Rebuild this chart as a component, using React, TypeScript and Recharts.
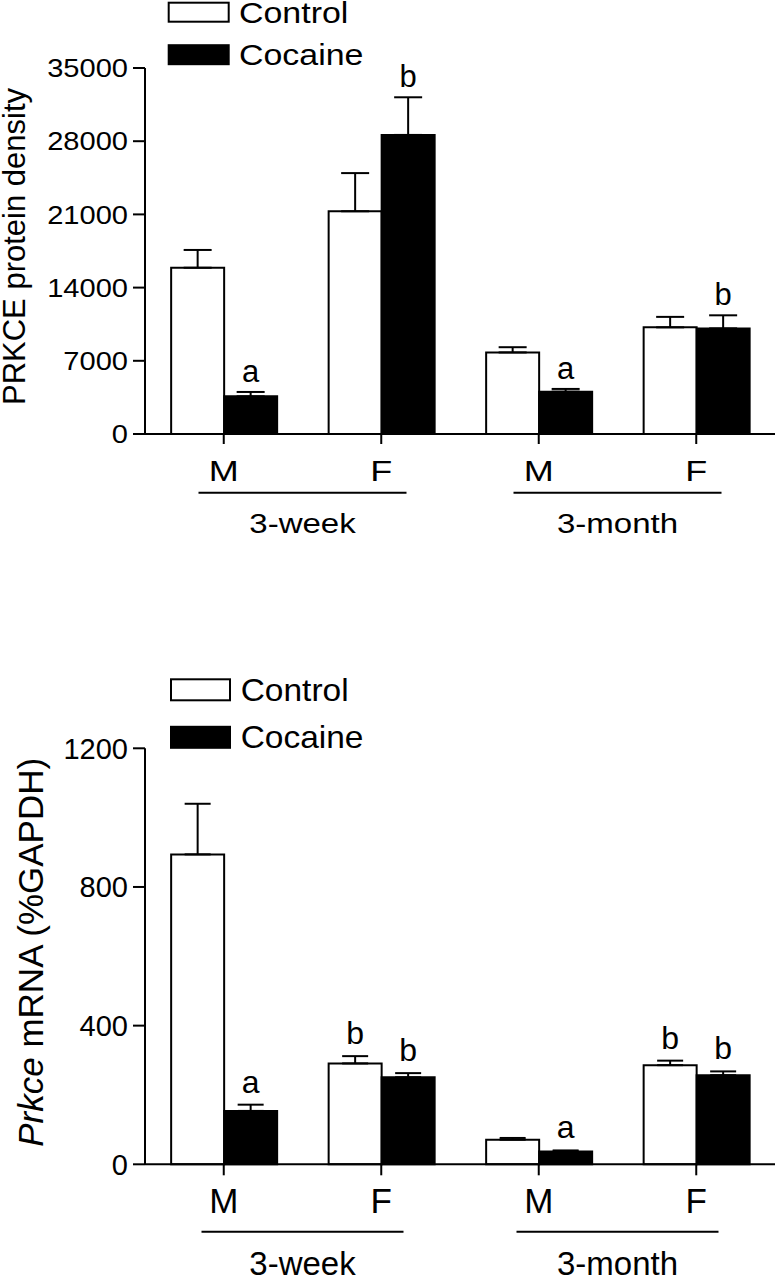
import React from 'react'
import { BarChart, Bar, XAxis, YAxis, ErrorBar, LabelList, Legend } from 'recharts'

const FONT = '"Liberation Sans", Arial, Helvetica, sans-serif'

const sexes = ['M', 'F', 'M', 'F']
const periods = ['3-week', '3-week', '3-month', '3-month']
const groups = ['Control', 'Cocaine']

// PRKCE protein density (top panel)
const proteinTicks = [0, 7000, 14000, 21000, 28000, 35000]
const proteinControl = [15900, 21300, 7800, 10200]
const proteinControlSem = [1700, 3650, 500, 1000]
const proteinCocaine = [3600, 28600, 4050, 10100]
const proteinCocaineSem = [420, 3600, 260, 1250]
const proteinControlMarks = ['', '', '', '']
const proteinCocaineMarks = ['a', 'b', 'a', 'b']

// Prkce mRNA %GAPDH (bottom panel)
const mrnaTicks = [0, 400, 800, 1200]
const mrnaControl = [894, 291, 71, 286]
const mrnaControlSem = [146, 21, 5, 13]
const mrnaCocaine = [154, 251, 37, 257]
const mrnaCocaineSem = [18, 12, 3, 11]
const mrnaControlMarks = ['', 'b', '', 'b']
const mrnaCocaineMarks = ['a', 'b', 'a', 'b']

function buildRows(ctrl, ctrlSem, coc, cocSem, ctrlMarks, cocMarks) {
  return sexes.map((sex, i) => ({
    sex,
    period: periods[i],
    control: ctrl[i],
    controlSem: ctrlSem[i],
    controlErr: [0, ctrlSem[i]],
    controlMark: ctrlMarks[i],
    cocaine: coc[i],
    cocaineSem: cocSem[i],
    cocaineErr: [0, cocSem[i]],
    cocaineMark: cocMarks[i],
  }))
}

const proteinRows = buildRows(proteinControl, proteinControlSem, proteinCocaine, proteinCocaineSem, proteinControlMarks, proteinCocaineMarks)
const mrnaRows = buildRows(mrnaControl, mrnaControlSem, mrnaCocaine, mrnaCocaineSem, mrnaControlMarks, mrnaCocaineMarks)

// text stretched sideways like the original figure
function SText({ x, y, sx = 1, anchor = 'middle', size, children }: any) {
  return (
    <text
      transform={`translate(${x},${y}) scale(${sx},1)`}
      textAnchor={anchor}
      fontSize={size}
      fontFamily={FONT}
      fill="#000"
    >
      {children}
    </text>
  )
}

const makeYTick = (size, sx) => (props: any) => (
  <SText x={props.x} y={props.y + size * 0.358} sx={sx} anchor="end" size={size}>
    {props.payload.value}
  </SText>
)

const makeSexTick = (size, sx, dy) => (props: any) => (
  <SText x={props.x} y={props.y + dy} sx={sx} size={size}>
    {props.payload.value}
  </SText>
)

const makeGroupTick = (size, sx, lineDy, textDy, half) => (props: any) => (
  <g>
    <line x1={props.x - half} x2={props.x + half} y1={props.y + lineDy} y2={props.y + lineDy} stroke="#000" strokeWidth={2} />
    <SText x={props.x} y={props.y + textDy} sx={sx} size={size}>
      {props.payload.value}
    </SText>
  </g>
)

// significance letter sits just above the error bar
const makeMark = (rows, valueKey, semKey, gap, size) => (props: any) => {
  const { index, value } = props
  if (!value) return null
  const vb = props.viewBox || {}
  const x = vb.x ?? props.x
  const y = vb.y ?? props.y
  const w = vb.width ?? props.width
  const h = vb.height ?? props.height
  const row = rows[index]
  const top = y - (h / row[valueKey]) * row[semKey]
  return (
    <text x={x + w / 2} y={top - gap} textAnchor="middle" fontSize={size} fontFamily={FONT} fill="#000">
      {value}
    </text>
  )
}

const makeLegend = (cfg) => (props: any) => {
  const items = [...(props.payload || [])].sort((a, b) => groups.indexOf(a.value) - groups.indexOf(b.value))
  return (
    <svg width={300} height={110} style={{ display: 'block', overflow: 'visible' }}>
      {items.map((it, i) => (
        <g key={i}>
          <rect
            x={cfg.boxX}
            y={cfg.boxY + i * cfg.step}
            width={cfg.boxW}
            height={cfg.boxH}
            fill={it.color}
            stroke="#000"
            strokeWidth={2}
          />
          <SText x={cfg.textX} y={cfg.baseY + i * cfg.step} anchor="start" sx={cfg.sx} size={cfg.size}>
            {it.value}
          </SText>
        </g>
      ))}
    </svg>
  )
}

const axisStroke = { stroke: '#000', strokeWidth: 2 }

function ProteinChart() {
  return (
    <BarChart
      width={776}
      height={545}
      data={proteinRows}
      margin={{ top: 68, right: 1, bottom: 0, left: 0 }}
      barCategoryGap="16.6%"
      barGap={0}
    >
      <Legend
        layout="vertical"
        align="center"
        verticalAlign="middle"
        wrapperStyle={{ left: 160, top: 0, width: 300, height: 70 }}
        content={makeLegend({ boxX: 8.7, boxY: 2.7, boxW: 60, boxH: 19, step: 42.5, textX: 79, baseY: 22.7, size: 29, sx: 1.17 })}
      />
      <XAxis
        dataKey="sex"
        height={50}
        interval={0}
        tickSize={10}
        tickMargin={0}
        axisLine={axisStroke}
        tickLine={axisStroke}
        tick={makeSexTick(30, 1.2, 37)}
      />
      <XAxis
        xAxisId="grp"
        dataKey="period"
        allowDuplicatedCategory={false}
        height={61}
        interval={0}
        tickSize={0}
        tickMargin={0}
        axisLine={false}
        tickLine={false}
        tick={makeGroupTick(28, 1.18, 8.7, 49, 104)}
      />
      <YAxis
        width={145}
        domain={[0, 35000]}
        ticks={proteinTicks}
        interval={0}
        tickSize={12}
        tickMargin={5}
        axisLine={axisStroke}
        tickLine={axisStroke}
        tick={makeYTick(25.5, 1.14)}
        label={(p: any) => (
          <text
            transform={`translate(25,${p.viewBox.y + p.viewBox.height / 2 - 4.5}) rotate(-90)`}
            textAnchor="middle"
            fontSize={31}
            fontFamily={FONT}
            fill="#000"
          >
            PRKCE protein density
          </text>
        )}
      />
      <Bar dataKey="control" name="Control" fill="#fff" stroke="#000" strokeWidth={2} isAnimationActive={false}>
        <ErrorBar dataKey="controlErr" direction="y" width={14} stroke="#000" strokeWidth={2} isAnimationActive={false} />
        <LabelList dataKey="controlMark" content={makeMark(proteinRows, 'control', 'controlSem', 10, 31)} />
      </Bar>
      <Bar dataKey="cocaine" name="Cocaine" fill="#000" stroke="#000" strokeWidth={2} isAnimationActive={false}>
        <ErrorBar dataKey="cocaineErr" direction="y" width={14} stroke="#000" strokeWidth={2} isAnimationActive={false} />
        <LabelList dataKey="cocaineMark" content={makeMark(proteinRows, 'cocaine', 'cocaineSem', 10, 31)} />
      </Bar>
    </BarChart>
  )
}

function MrnaChart() {
  return (
    <BarChart
      width={776}
      height={680}
      data={mrnaRows}
      margin={{ top: 148.3, right: 1, bottom: 0, left: 0 }}
      barCategoryGap="16.6%"
      barGap={0}
    >
      <Legend
        layout="vertical"
        align="center"
        verticalAlign="middle"
        wrapperStyle={{ left: 160, top: 70, width: 300, height: 90 }}
        content={makeLegend({ boxX: 11, boxY: 9.3, boxW: 59, boxH: 21, step: 47.5, textX: 80.7, baseY: 30.7, size: 31, sx: 1.08 })}
      />
      <XAxis
        dataKey="sex"
        height={50}
        interval={0}
        tickSize={11}
        tickMargin={0}
        axisLine={axisStroke}
        tickLine={axisStroke}
        tick={makeSexTick(35, 1, 37.7)}
      />
      <XAxis
        xAxisId="grp"
        dataKey="period"
        allowDuplicatedCategory={false}
        height={65.7}
        interval={0}
        tickSize={0}
        tickMargin={0}
        axisLine={false}
        tickLine={false}
        tick={makeGroupTick(33, 1, 17.4, 61, 101)}
      />
      <YAxis
        width={145}
        domain={[0, 1200]}
        ticks={mrnaTicks}
        interval={0}
        tickSize={12}
        tickMargin={5}
        axisLine={axisStroke}
        tickLine={axisStroke}
        tick={makeYTick(29, 1)}
        label={(p: any) => (
          <text
            transform={`translate(43,${p.viewBox.y + p.viewBox.height / 2 - 4}) rotate(-90)`}
            textAnchor="middle"
            fontSize={35}
            fontFamily={FONT}
            fill="#000"
          >
            <tspan fontStyle="italic">Prkce</tspan>
            <tspan> mRNA (%GAPDH)</tspan>
          </text>
        )}
      />
      <Bar dataKey="control" name="Control" fill="#fff" stroke="#000" strokeWidth={2} isAnimationActive={false}>
        <ErrorBar dataKey="controlErr" direction="y" width={13} stroke="#000" strokeWidth={2} isAnimationActive={false} />
        <LabelList dataKey="controlMark" content={makeMark(mrnaRows, 'control', 'controlSem', 12, 32)} />
      </Bar>
      <Bar dataKey="cocaine" name="Cocaine" fill="#000" stroke="#000" strokeWidth={2} isAnimationActive={false}>
        <ErrorBar dataKey="cocaineErr" direction="y" width={13} stroke="#000" strokeWidth={2} isAnimationActive={false} />
        <LabelList dataKey="cocaineMark" content={makeMark(mrnaRows, 'cocaine', 'cocaineSem', 12, 32)} />
      </Bar>
    </BarChart>
  )
}

export default function App() {
  return (
    <div style={{ position: 'absolute', left: 0, top: 0, width: 776, height: 1280, background: '#fff', overflow: 'hidden' }}>
      <div style={{ position: 'absolute', left: 0, top: 0 }}>
        <ProteinChart />
      </div>
      <div style={{ position: 'absolute', left: 0, top: 600 }}>
        <MrnaChart />
      </div>
    </div>
  )
}
